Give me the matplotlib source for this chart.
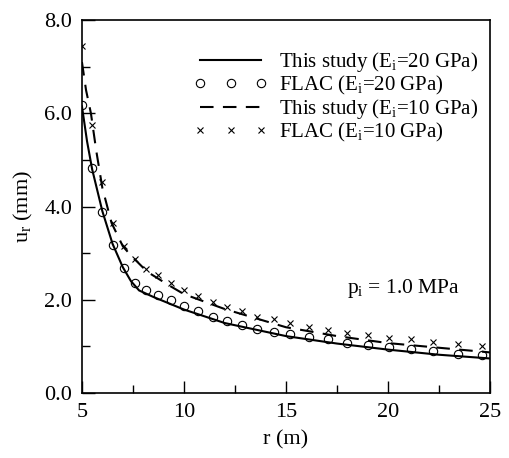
import numpy as np
import matplotlib
matplotlib.use('Agg')
import matplotlib.pyplot as plt
from matplotlib.ticker import MultipleLocator

plt.rcParams['font.family'] = ['Liberation Serif', 'DejaVu Serif']
plt.rcParams['mathtext.fontset'] = 'custom'
plt.rcParams['mathtext.rm'] = 'Liberation Serif'
plt.rcParams['mathtext.it'] = 'Liberation Serif:italic'

# FLAC grid radii (m)
r_flac = [5.0, 5.5, 6.0, 6.5, 7.05, 7.6, 8.15, 8.75, 9.35, 10.0, 10.7, 11.4, 12.1,
          12.85, 13.6, 14.4, 15.2, 16.1, 17.05, 18.0, 19.0, 20.05, 21.1, 22.2, 23.4, 24.6]
u_flac20 = [6.19, 4.83, 3.88, 3.17, 2.68, 2.36, 2.21, 2.10, 2.00, 1.87, 1.76, 1.63, 1.55,
            1.46, 1.38, 1.31, 1.27, 1.20, 1.16, 1.08, 1.03, 0.99, 0.95, 0.90, 0.84, 0.82]
u_flac10 = [7.45, 5.74, 4.52, 3.65, 3.15, 2.88, 2.67, 2.53, 2.37, 2.21, 2.07, 1.96, 1.85,
            1.76, 1.64, 1.59, 1.50, 1.42, 1.35, 1.29, 1.25, 1.18, 1.16, 1.10, 1.05, 1.01]

# analytical curves ("This study")
r_s20 = [5.0, 5.25, 5.5, 6.0, 6.5, 7.0, 7.4, 7.8, 8.5, 10.0, 12.0, 15.0, 17.5, 20.0, 22.5, 25.0]
u_s20 = [6.15, 5.40, 4.80, 3.90, 3.20, 2.70, 2.40, 2.20, 2.06, 1.79, 1.50, 1.22, 1.06, 0.93, 0.82, 0.74]
r_s10 = [5.0, 5.2, 5.44, 5.7, 6.0, 6.45, 7.0, 7.4, 8.2, 9.3, 10.0, 12.0, 15.0, 17.5, 20.0, 22.5, 25.0]
u_s10 = [7.10, 6.50, 6.00, 5.20, 4.40, 3.65, 3.15, 2.95, 2.60, 2.30, 2.12, 1.80, 1.41, 1.22, 1.07, 0.97, 0.87]

fig = plt.figure(figsize=(5.09, 4.58), dpi=100)
ax = fig.add_axes([0.161, 0.142, 0.802, 0.814])

ax.plot(r_s20, u_s20, color='black', lw=1.5, label='This study (E$_\\mathrm{i}$=20 GPa)')
ax.plot(r_flac, u_flac20, ls='none', marker='o', ms=6, mfc='none', mec='black', mew=0.8,
        label='FLAC (E$_\\mathrm{i}$=20 GPa)')
ax.plot(r_s10, u_s10, color='black', lw=1.5, ls=(0, (6.5, 4.5)),
        label='This study (E$_\\mathrm{i}$=10 GPa)')
ax.plot(r_flac, u_flac10, ls='none', marker='x', ms=5, mec='black', mew=0.8,
        label='FLAC (E$_\\mathrm{i}$=10 GPa)')

ax.set_xlim(5, 25)
ax.set_ylim(0, 8)
ax.xaxis.set_major_locator(MultipleLocator(5))
ax.xaxis.set_minor_locator(MultipleLocator(2.5))
ax.yaxis.set_major_locator(MultipleLocator(2))
ax.yaxis.set_minor_locator(MultipleLocator(1))
ax.yaxis.set_major_formatter(matplotlib.ticker.FormatStrFormatter('%.1f'))
ax.tick_params(which='both', direction='in', labelsize=16, width=1)
ax.tick_params(which='major', length=9)
ax.tick_params(which='minor', length=6)
ax.tick_params(axis='x', pad=7)
ax.tick_params(axis='y', pad=7)
for s in ax.spines.values():
    s.set_linewidth(1.2)

ax.set_xlabel('r (m)', fontsize=16, labelpad=6)
ax.set_ylabel('u$_\\mathrm{r}$ (mm)', fontsize=16, labelpad=7)

ax.text(18.0, 2.25, 'p$_\\mathrm{i}$ = 1.0 MPa', fontsize=15.5, va='center', ha='left')

ax.legend(loc='upper left', bbox_to_anchor=(0.275, 0.92), frameon=False, fontsize=15,
          numpoints=3, handlelength=3.5, handletextpad=0.55, labelspacing=0.0,
          borderpad=0, borderaxespad=0)

fig.savefig('out.png', dpi=100)
